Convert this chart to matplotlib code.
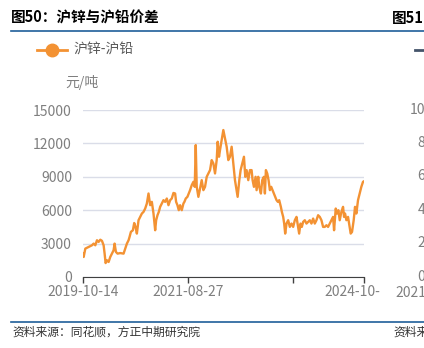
import matplotlib
matplotlib.use('Agg')
import matplotlib.pyplot as plt
from matplotlib.transforms import ScaledTranslation
from matplotlib.lines import Line2D

plt.rcParams['font.family'] = ['Noto Sans CJK SC', 'DejaVu Sans']

# Zinc - lead spread (yuan/ton), sample position along the time axis
pos = [0, 2, 7, 17, 27, 32, 37, 42, 47, 52, 57, 62, 65, 68, 72, 77, 82, 87, 92, 95,
       99, 104, 112, 122, 127, 132, 137, 140, 144, 150, 154, 158, 162, 167, 172, 177,
       182, 187, 192, 197, 202, 207, 212, 217, 220, 224, 228, 232, 237, 242, 247, 252,
       257, 262, 267, 272, 277, 280, 284, 288, 292, 297, 302, 305, 309, 314, 318, 322,
       327, 332, 336, 339, 342, 347, 352, 357, 362, 367, 372, 377, 382, 387, 392, 397,
       402, 405, 409, 412, 417, 422, 427, 432, 437, 442, 447, 452, 457, 462, 465, 470,
       474, 479, 484, 488, 492, 497, 502, 507, 510, 514, 519, 522, 527, 530, 535, 539,
       544, 547, 550, 554, 558, 562, 566, 570, 574, 578, 582, 586, 590, 595, 598, 602,
       605, 608, 612, 617, 622, 627, 632, 637, 642, 647, 650, 654, 658, 662, 667, 672,
       677, 682, 687, 692, 697, 702, 707, 712, 717, 722, 727, 732, 737, 742, 747, 752,
       755, 760, 764, 768, 772, 777, 782, 785, 788, 792, 797, 802, 805, 809, 814, 818,
       822, 827, 832, 837, 842, 845]
spread = [2100, 1800, 2550, 2700, 2850, 3000, 2850, 3300, 3150, 3350, 3250, 2850, 2100,
          1250, 1500, 1350, 1800, 2100, 2400, 3000, 2250, 2100, 2150, 2100, 2550, 3000,
          3300, 3600, 4050, 4200, 4850, 4500, 3900, 5100, 5400, 5700, 5850, 6150, 6600,
          7500, 6450, 6750, 5700, 4200, 5100, 5550, 5850, 6300, 6600, 6900, 6750, 7050,
          6450, 6900, 7050, 7550, 7500, 6750, 6450, 6000, 6450, 6000, 6600, 6750, 7050,
          7200, 7500, 7800, 8250, 8550, 8100, 11850, 8100, 7200, 7950, 8700, 7800, 8100,
          9000, 9300, 9600, 10500, 10200, 9300, 10500, 12150, 10800, 11400, 12300, 13200,
          12450, 11700, 10500, 10800, 11700, 10200, 8700, 7800, 7200, 8700, 9600, 10200,
          10800, 9000, 9600, 8700, 9600, 9600, 8700, 8100, 9000, 7800, 9000, 8100, 7500,
          8700, 9000, 7500, 9600, 9300, 8700, 7800, 8100, 7800, 7500, 7200, 6900, 6750,
          6900, 6300, 5850, 5400, 4800, 3900, 4800, 5100, 4500, 4800, 4500, 5100, 5400,
          4500, 3900, 4800, 4500, 4950, 5100, 4800, 4950, 5100, 4800, 5250, 4800, 5100,
          5550, 5400, 5100, 4500, 4500, 4650, 4500, 4800, 5100, 5400, 4200, 6150, 5700,
          6000, 5100, 5850, 6300, 5400, 5700, 5100, 5400, 4500, 3900, 4050, 5100, 6300,
          5700, 6900, 7500, 8100, 8550, 8600]

tick_pos = [0, 315, 632, 845]
tick_labels = ['2019-10-14', '2021-08-27', '', '2024-10-']
y_ticks = [0, 3000, 6000, 9000, 12000, 15000]

orange = '#F39233'
gray = '#7F7F7F'
blue = '#1F5F99'

W, H = 424, 348
fig = plt.figure(figsize=(W / 100, H / 100), dpi=100)
ax = fig.add_axes([83 / W, 1 - 277 / H, 281 / W, 167 / H])

ax.plot(pos, spread, color=orange, lw=1.7)
ax.set_xlim(0, 845)
ax.set_ylim(0, 15000)
ax.set_yticks(y_ticks)
ax.set_yticklabels([str(v) for v in y_ticks])
ax.set_xticks(tick_pos)
ax.set_xticklabels(tick_labels)
ax.grid(axis='y', color='#DADDE8', lw=1)
ax.set_axisbelow(True)
for s in ['top', 'right', 'left']:
    ax.spines[s].set_visible(False)
ax.spines['bottom'].set_color('#404040')
ax.tick_params(axis='y', length=0, pad=8, labelsize=10, labelcolor=gray)
ax.tick_params(axis='x', length=4, width=1, color='#404040', pad=2,
               labelsize=10, labelcolor=gray)
lbl = ax.get_xticklabels()[-1]
lbl.set_transform(lbl.get_transform() + ScaledTranslation(-12 / 100, 0, fig.dpi_scale_trans))

# unit label
fig.text(65 / W, 1 - 83 / H, '元/吨', fontsize=10, color=gray, va='center')

# title and rules
fig.text(11 / W, 1 - 18 / H, '图50：沪锌与沪铅价差', fontsize=10.5, fontweight='bold',
         va='center')
fig.text(392 / W, 1 - 18 / H, '图51', fontsize=10.5, fontweight='bold', va='center')
fig.add_artist(Line2D([11 / W, 1], [1 - 30.5 / H] * 2, color=blue, lw=1.2))
fig.add_artist(Line2D([11 / W, 1], [1 - 322 / H] * 2, color=blue, lw=1.2))

# legend
fig.add_artist(Line2D([37 / W, 67 / W], [1 - 50 / H] * 2, color=orange, lw=2))
fig.add_artist(Line2D([52 / W], [1 - 50 / H], color=orange, marker='o', markersize=9))
fig.text(73 / W, 1 - 50 / H, '沪锌-沪铅', fontsize=10, color='#595959', va='center')
fig.add_artist(Line2D([415 / W, 1], [1 - 50 / H] * 2, color='#44546A', lw=2))

# source
fig.text(12 / W, 1 - 332 / H, '资料来源：同花顺，方正中期研究院', fontsize=8.5,
         style='italic', color='#333333', va='center')
fig.text(393 / W, 1 - 332 / H, '资料来源', fontsize=8.5, style='italic',
         color='#333333', va='center')

# neighbouring chart's partial labels
for v, yp in zip(['0', '2', '4', '6', '8', '10'], [277, 243, 210, 176, 143, 110]):
    fig.text(425 / W, 1 - yp / H, v, fontsize=10, color=gray, ha='right', va='center')
fig.text(395 / W, 1 - 293 / H, '2021', fontsize=10, color=gray, va='center')

fig.savefig('out.png', dpi=100)
